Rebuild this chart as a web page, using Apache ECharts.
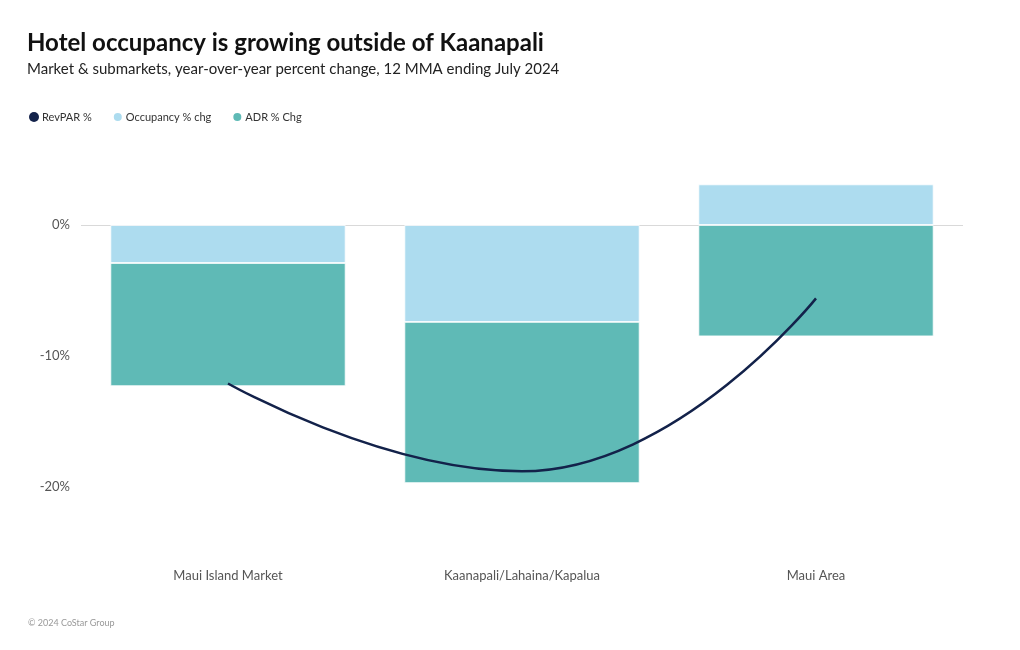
<!DOCTYPE html>
<html>
<head>
<meta charset="utf-8">
<script src="https://cdn.jsdelivr.net/npm/echarts@6/dist/echarts.min.js"></script>
<style>
  html, body { margin: 0; padding: 0; background: #fff; }
  #chart { width: 1020px; height: 650px; }
</style>
</head>
<body>
<div id="chart"></div>
<script>
// 数据
const categories = ['Maui Island Market', 'Kaanapali/Lahaina/Kapalua', 'Maui Area']
const occupancyChg = [-2.9, -7.4, 3.1]
const adrChg = [-9.4, -12.3, -8.5]
const revparChg = [-12.1, -18.8, -5.6]

const fontFamily = 'Lato, "Noto Sans", sans-serif'

const chart = echarts.init(document.getElementById('chart'))
chart.setOption({
  animation: false,
  textStyle: { fontFamily: fontFamily },
  title: [
    {
      text: 'Hotel occupancy is growing outside of Kaanapali',
      subtext: 'Market & submarkets, year-over-year percent change, 12 MMA ending July 2024',
      left: 22,
      top: 26,
      itemGap: 7,
      textStyle: { fontSize: 24, fontWeight: 'bold', color: '#111', fontFamily: fontFamily },
      subtextStyle: { fontSize: 15, color: '#222', fontFamily: fontFamily }
    },
    {
      text: '© 2024 CoStar Group',
      left: 23,
      top: 614,
      textStyle: { fontSize: 9, fontWeight: 'normal', color: '#999', fontFamily: fontFamily }
    }
  ],
  legend: {
    data: ['RevPAR %', 'Occupancy % chg', 'ADR % Chg'],
    left: 24,
    top: 106,
    icon: 'circle',
    itemWidth: 10,
    itemHeight: 10,
    itemGap: 20,
    textStyle: { fontSize: 11, color: '#333', padding: [0, 0, 0, -2] }
  },
  grid: {
    left: 81,
    right: 57,
    top: 159.5,
    bottom: 97.5
  },
  xAxis: {
    type: 'category',
    data: categories,
    axisLine: { show: false },
    axisTick: { show: false },
    axisLabel: { color: '#555', fontSize: 13, margin: 17 }
  },
  yAxis: {
    type: 'value',
    min: -25,
    max: 5,
    interval: 5,
    splitLine: { show: false },
    axisLine: { show: false },
    axisTick: { show: false },
    axisLabel: {
      color: '#555',
      fontSize: 13,
      margin: 11,
      formatter: v => (v % 10 === 0 && v <= 0 ? v + '%' : '')
    }
  },
  series: [
    {
      name: 'Occupancy % chg',
      type: 'bar',
      stack: 'total',
      barWidth: '80%',
      data: occupancyChg,
      itemStyle: { color: '#addcef', borderColor: '#fff', borderWidth: 0.8 },
      markLine: {
        silent: true,
        symbol: 'none',
        label: { show: false },
        lineStyle: { color: '#d9d9d9', type: 'solid', width: 1 },
        data: [{ yAxis: 0 }],
        z: 1
      }
    },
    {
      name: 'ADR % Chg',
      type: 'bar',
      stack: 'total',
      data: adrChg,
      itemStyle: { color: '#5fbab6', borderColor: '#fff', borderWidth: 0.8 }
    },
    {
      name: 'RevPAR %',
      type: 'line',
      smooth: 0.5,
      showSymbol: false,
      data: revparChg,
      itemStyle: { color: '#13224a' },
      lineStyle: { color: '#13224a', width: 2.5 },
      z: 5
    }
  ]
})
</script>
</body>
</html>
